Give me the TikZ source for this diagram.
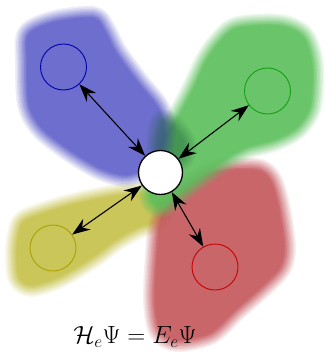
\documentclass[tikz,border=0pt]{standalone}
\usetikzlibrary{arrows.meta}
\definecolor{bluefill}{RGB}{90,90,200}
\definecolor{greenfill}{RGB}{90,190,90}
\definecolor{redfill}{RGB}{195,85,90}
\definecolor{yellowfill}{RGB}{200,195,80}
\definecolor{darkfill}{RGB}{25,95,55}
\definecolor{blueline}{RGB}{0,0,170}
\definecolor{greenline}{RGB}{20,160,20}
\definecolor{redline}{RGB}{200,0,0}
\definecolor{yellowline}{RGB}{170,160,0}
\newcommand\softblob[3]{%
  \begin{scope}[opacity=#3,transparency group]
  \foreach \k in {1,...,8}{%
    \pgfmathsetmacro\lw{3*\k}%
    \pgfmathsetmacro\op{1/(\k+0.5)}%
    \path[draw=#1,line width=\lw pt,draw opacity=\op,line join=round]
      plot[smooth cycle] coordinates {#2};}
  \path[fill=#1] plot[smooth cycle] coordinates {#2};
  \end{scope}}
\tikzset{
  site/.style={circle,minimum size=46pt,inner sep=0pt,line width=0.9pt},
  link/.style={{Stealth[length=18pt,width=13pt,inset=6pt]}-{Stealth[length=18pt,width=13pt,inset=6pt]},line width=1.1pt}
}
\begin{document}
\begin{tikzpicture}[x=1pt,y=-1pt]
\useasboundingbox (0,0) rectangle (326,361);
\softblob{yellowfill}{(27,220) (65,207) (110,197) (145,194) (163,205) (158,220) (138,227) (115,240) (92,257) (60,276) (32,285) (19,277) (17,250) (20,230)}{0.95}
\softblob{redfill}{(187,187) (215,172) (256,170) (270,180) (278,205) (284,245) (280,267) (260,288) (235,310) (210,333) (177,340) (160,330) (155,300) (157,255) (160,225) (170,202)}{0.9}
\softblob{greenfill}{(220,42) (238,28) (280,26) (303,37) (312,65) (310,106) (296,128) (273,140) (245,148) (215,166) (185,188) (162,206) (151,198) (153,172) (162,142) (179,116) (193,90) (206,62)}{0.9}
\softblob{bluefill}{(29,34) (55,22) (93,18) (104,30) (116,53) (138,83) (158,108) (164,130) (160,153) (146,168) (125,175) (100,168) (70,150) (42,128) (29,104) (27,60)}{0.88}
\softblob{darkfill}{(162,122) (172,126) (184,142) (182,158) (170,160) (158,146)}{0.45}
\node[site,draw=black,fill=white,minimum size=44pt,line width=1.3pt] (c) at (160.5,172.5) {};
\node[site,draw=blueline] (b) at (63.5,67) {};
\node[site,draw=greenline] (g) at (267.5,91) {};
\node[site,draw=yellowline] (y) at (53,248) {};
\node[site,draw=redline] (r) at (215,267) {};
\draw[link] (c) -- (b);
\draw[link] (c) -- (g);
\draw[link] (c) -- (y);
\draw[link] (c) -- (r);
\node (eq) at (135,337) {\fontsize{27}{32}\selectfont $\mathcal{H}_e\Psi = E_e\Psi$};
\end{tikzpicture}
\end{document}
